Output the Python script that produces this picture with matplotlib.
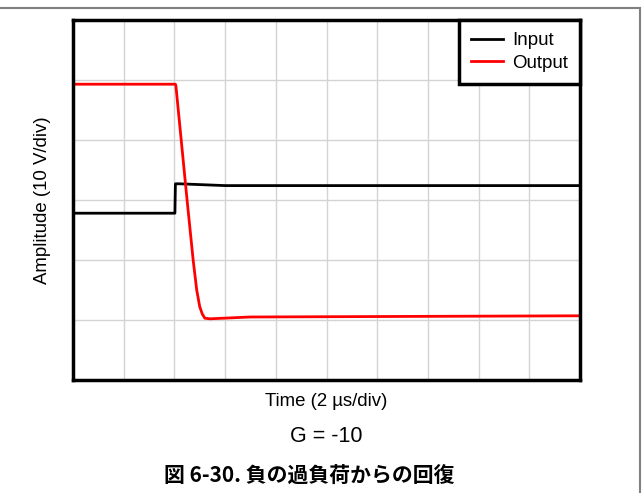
import matplotlib.pyplot as plt
from matplotlib.lines import Line2D

plt.rcParams['font.family'] = ['Liberation Sans', 'DejaVu Sans']

# waveform values, in divisions (x: 2 us/div, y: 10 V/div)
input_x = [0, 2.01, 2.02, 2.10, 3.0, 10]
input_y = [2.78, 2.78, 3.27, 3.27, 3.24, 3.24]

output_x = [0, 2.02, 2.03, 2.25, 2.37, 2.44, 2.50, 2.55, 2.60, 2.70, 3.49, 10]
output_y = [4.93, 4.93, 4.90, 3.00, 2.00, 1.50, 1.22, 1.10, 1.03, 1.02, 1.05, 1.07]

x_label = 'Time (2 µs/div)'
y_label = 'Amplitude (10 V/div)'
gain_text = 'G = -10'
caption = '図 6-30. 負の過負荷からの回復'

fig = plt.figure(figsize=(6.42, 4.93), dpi=100)
ax = fig.add_axes([73 / 642, 1 - 380 / 493, 507 / 642, 360 / 493])

ax.plot(input_x, input_y, color='black', lw=2, label='Input')
ax.plot(output_x, output_y, color='#ff0000', lw=2, label='Output')

ax.set_xlim(0, 10)
ax.set_ylim(0, 6)
ax.set_xticks(range(11))
ax.set_yticks(range(7))
ax.grid(True, color='#d3d3d3', lw=1)
ax.tick_params(length=0, labelbottom=False, labelleft=False)
for s in ax.spines.values():
    s.set_linewidth(2.5)

ax.set_xlabel(x_label, fontsize=13.4, labelpad=9)
ax.set_ylabel(y_label, fontsize=13.4, labelpad=16)

leg = ax.legend(loc='upper right', fontsize=13.5, frameon=True, fancybox=False,
                framealpha=1, borderaxespad=0, handlelength=1.7, borderpad=0.64,
                labelspacing=0.3, handletextpad=0.5)
leg.get_frame().set_edgecolor('black')
leg.get_frame().set_linewidth(2.5)

fig.text(326 / 642, 1 - 437 / 493, gain_text, ha='center', va='center', fontsize=15.5)
fig.text(309 / 642, 1 - 476 / 493, caption, ha='center', va='center', fontsize=15,
         fontweight='bold', family=['Noto Sans CJK JP', 'DejaVu Sans'])

# outer frame lines (top and right) from the document box
fig.add_artist(Line2D([0, 640 / 642], [1 - 8 / 493, 1 - 8 / 493], color='#808080', lw=1.5))
fig.add_artist(Line2D([640 / 642, 640 / 642], [0, 1 - 8 / 493], color='#808080', lw=1.5))

fig.savefig('out.png', dpi=100)
